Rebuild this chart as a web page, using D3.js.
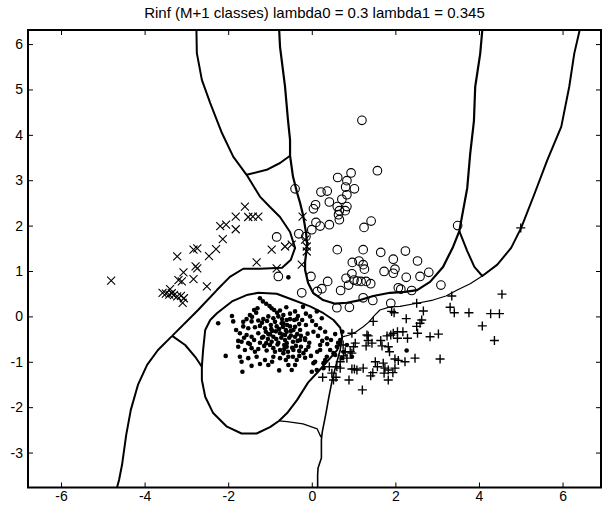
<!DOCTYPE html>
<html>
<head>
<meta charset="utf-8">
<script src="https://cdn.jsdelivr.net/npm/d3@7"></script>
<style>
  html, body { margin: 0; padding: 0; background: #fff; }
  svg { display: block; font-family: "Liberation Sans", Arial, Helvetica, sans-serif; }
</style>
</head>
<body>
<svg id="chart" width="604" height="507"></svg>
<script>
// Class samples, [x, y] in data units
const crossPoints = [
  [-4.80, 0.79], [-1.60, 2.42], [-1.82, 2.20], [-1.52, 2.19], [-1.41, 2.20], [-1.28, 2.20],
  [-2.19, 1.99], [-2.05, 2.02], [-1.82, 1.92], [-2.13, 1.70], [-2.29, 1.48], [-2.46, 1.33],
  [-2.83, 1.47], [-2.74, 1.50], [-3.22, 1.32], [-2.78, 1.10], [-2.74, 1.06], [-3.07, 0.97],
  [-2.83, 0.82], [-3.19, 0.80], [-3.11, 0.77], [-2.51, 0.66], [-3.57, 0.52], [-3.49, 0.50],
  [-3.41, 0.48], [-3.35, 0.51], [-3.30, 0.47], [-3.22, 0.44], [-3.13, 0.45], [-3.06, 0.40],
  [-3.09, 0.30], [-3.39, 0.60], [-0.96, 1.47], [-1.32, 1.19], [-0.84, 1.06], [-0.22, 2.20],
  [-0.64, 1.54], [-0.48, 1.58], [-0.12, 1.54], [-0.24, 1.14], [-0.12, 1.43], [-0.16, 1.69]
];

const circlePoints = [
  [1.20, 4.32], [1.57, 3.21], [0.94, 3.16], [0.62, 3.06], [0.84, 2.99], [-0.40, 2.81],
  [0.81, 2.85], [1.02, 2.81], [0.22, 2.74], [0.37, 2.76], [0.84, 2.68], [0.72, 2.58],
  [0.42, 2.52], [0.09, 2.46], [0.04, 2.37], [0.61, 2.42], [0.84, 2.42], [0.66, 2.33],
  [0.80, 2.33], [0.64, 2.24], [0.66, 2.13], [1.42, 2.10], [0.10, 2.07], [0.20, 1.99],
  [0.42, 2.02], [1.25, 1.96], [0.00, 1.91], [-0.31, 1.82], [-0.14, 1.76], [3.49, 2.00],
  [0.61, 1.47], [1.23, 1.47], [1.65, 1.41], [2.24, 1.44], [1.95, 1.26], [2.53, 1.22],
  [0.97, 1.19], [1.13, 1.22], [1.23, 1.14], [1.26, 1.04], [1.99, 1.04], [1.73, 0.99],
  [1.95, 0.95], [2.80, 0.97], [2.59, 0.88], [2.26, 0.86], [-0.02, 0.88], [0.82, 0.84],
  [0.96, 0.94], [1.01, 0.80], [1.09, 0.78], [1.18, 0.77], [1.30, 0.77], [1.41, 0.72],
  [0.38, 0.77], [0.88, 0.69], [3.09, 0.69], [0.24, 0.61], [0.13, 0.55], [0.69, 0.57],
  [2.07, 0.63], [2.13, 0.60], [2.39, 0.57], [-0.24, 0.52], [1.23, 0.41], [1.46, 0.35],
  [1.89, 0.29], [0.60, 0.19], [0.90, 0.20], [-0.84, 1.75], [-0.80, 0.88]
];

const plusPoints = [
  [4.55, 0.49], [3.35, 0.45], [3.31, 0.20], [3.41, 0.08], [3.76, 0.08], [4.28, 0.06],
  [4.49, 0.06], [4.08, -0.21], [4.37, -0.53], [3.07, -0.94], [3.03, -0.39], [2.83, -0.45],
  [2.67, 0.12], [2.51, 0.29], [2.26, -0.05], [2.63, -0.08], [2.59, -0.15], [2.51, -0.22],
  [2.53, -0.37], [2.29, -0.48], [2.18, -0.34], [2.05, -0.34], [2.05, -0.48], [1.95, -0.37],
  [1.89, -0.41], [1.91, 0.11], [1.97, 0.08], [1.47, -0.11], [0.96, -0.37], [1.32, -0.41],
  [1.35, -0.53], [1.30, -0.65], [1.44, -0.59], [1.65, -0.53], [1.68, -0.65], [1.83, -0.67],
  [1.86, -0.78], [1.99, -0.94], [2.07, -0.97], [2.23, -1.00], [2.47, -0.92], [1.52, -1.00],
  [1.71, -1.03], [1.57, -1.11], [1.75, -1.14], [1.83, -1.18], [1.99, -1.14], [1.94, -1.24],
  [1.41, -1.31], [1.46, -1.24], [1.23, -1.14], [1.83, -1.40], [0.89, -1.40], [1.21, -1.62],
  [0.96, -1.16], [1.02, -1.16], [0.52, -1.40], [0.26, -1.34], [0.58, -1.34], [0.42, -1.11],
  [0.60, -1.11], [0.84, -0.92], [0.96, -0.81], [1.00, -0.67], [0.92, -0.78], [1.04, -0.59],
  [0.76, -0.87], [0.68, -1.00], [5.00, 1.95], [1.35, -0.43], [1.80, -0.43], [0.80, -0.78],
  [0.48, -1.25], [0.68, -1.14], [1.08, -1.18], [1.73, -1.25], [0.75, -0.63]
];

const dotPoints = [
  [-0.56, 0.86], [-1.24, 0.40], [-1.17, 0.33], [-1.09, 0.28], [-1.01, 0.23], [-0.96, 0.18],
  [-0.76, 0.13], [-1.38, 0.14], [-1.30, 0.18], [-1.48, 0.03], [-1.91, 0.01], [-1.88, -0.11],
  [-1.56, -0.06], [-1.44, -0.11], [-1.28, -0.09], [-1.16, -0.06], [-1.04, 0.00], [-0.92, -0.04],
  [-0.80, 0.00], [-0.68, 0.03], [-0.60, -0.08], [-1.64, -0.22], [-1.52, -0.26], [-1.36, -0.24],
  [-1.24, -0.21], [-1.12, -0.26], [-0.98, -0.19], [-0.84, -0.22], [-0.72, -0.15], [-1.72, -0.37],
  [-1.56, -0.41], [-1.44, -0.45], [-1.28, -0.37], [-1.16, -0.45], [-1.04, -0.39], [-0.92, -0.45],
  [-0.76, -0.37], [-0.60, -0.34], [-1.68, -0.56], [-1.52, -0.59], [-1.38, -0.52], [-1.24, -0.58],
  [-1.09, -0.59], [-0.96, -0.56], [-0.80, -0.58], [-0.64, -0.52], [-1.76, -0.67], [-1.60, -0.74],
  [-1.44, -0.70], [-1.28, -0.72], [-1.08, -0.75], [-0.92, -0.70], [-0.76, -0.74], [-0.60, -0.67],
  [-2.06, -0.87], [-1.72, -0.89], [-1.52, -0.92], [-1.32, -0.89], [-1.12, -0.96], [-0.92, -0.89],
  [-0.76, -0.92], [-0.56, -0.89], [-1.68, -1.00], [-1.44, -1.09], [-1.04, -1.07], [-0.78, -1.19],
  [-1.66, -1.22], [-2.24, -0.15], [-0.21, 0.21], [-0.40, 0.11], [0.12, 0.11], [-0.04, 0.00],
  [0.24, -0.04], [-0.36, -0.06], [-0.52, -0.06], [-0.14, -0.19], [0.04, -0.34], [0.36, -0.48],
  [0.32, -0.34], [0.73, -0.34], [-0.28, -0.30], [-0.40, -0.45], [-0.16, -0.52], [0.20, -0.63],
  [0.44, -0.74], [0.56, -0.85], [0.32, -0.96], [0.08, -1.00], [-0.16, -0.91], [-0.40, -1.07],
  [-0.68, -0.15], [-0.52, -0.22], [0.20, -0.26], [-0.28, -0.52], [-0.60, -0.59], [-0.44, -0.74],
  [-0.68, -0.81], [-0.20, -0.81], [0.20, -0.74], [0.52, -0.81], [0.36, -0.89], [0.28, -1.03],
  [0.04, -1.03], [-0.36, -0.96], [-0.56, -1.07], [-0.48, -1.18], [0.12, -1.18], [0.28, -1.14],
  [0.00, -1.22], [0.68, -0.52], [0.60, -0.67], [0.84, -0.63], [0.76, -0.78], [0.96, -0.89],
  [0.72, -0.92], [-0.16, -0.48], [-0.08, -0.67], [2.27, -0.75], [-1.19, -0.14], [-1.07, -0.10],
  [-0.97, -0.28], [-0.88, -0.12], [-0.78, -0.28], [-0.69, -0.23], [-0.59, -0.19], [-0.50, -0.32],
  [-0.40, -0.23], [-0.30, -0.17], [-1.19, -0.47], [-1.05, -0.50], [-0.95, -0.32], [-0.85, -0.50],
  [-0.73, -0.47], [-0.64, -0.41], [-0.54, -0.47], [-0.45, -0.56], [-0.35, -0.39], [-0.26, -0.43],
  [-1.14, -0.65], [-1.00, -0.63], [-0.88, -0.78], [-0.66, -0.63], [-0.57, -0.78], [-0.47, -0.69],
  [-0.38, -0.65], [-0.26, -0.67], [-0.14, -0.74], [-0.06, -0.58], [-0.83, 0.08], [-0.71, -0.06],
  [-0.52, 0.06], [-0.42, -0.08], [-0.33, 0.01], [-0.23, -0.08], [-0.14, 0.06], [0.01, -0.10],
  [0.10, -0.19], [0.15, -0.43], [0.25, -0.54], [0.37, -0.61], [0.46, -0.52], [0.56, -0.39],
  [0.63, -0.58], [0.13, -0.78], [-0.02, -0.87], [-0.30, -0.87], [-0.45, -0.89], [-0.62, -0.96],
  [-0.95, -1.00], [-1.24, -1.05], [-1.36, -0.78], [-1.48, -0.61], [-1.62, -0.47], [-1.76, -0.54],
  [-1.81, -0.30], [-1.64, -0.12], [-1.43, -0.01], [-1.33, 0.08], [-0.61, 0.20], [-0.90, 0.14],
  [-0.86, -0.33], [-0.70, -0.40], [-0.50, -0.42], [-0.62, -0.30], [-0.82, -0.62], [-0.66, -0.72],
  [-0.34, -0.54], [-0.44, -0.30], [-1.00, -0.40], [-1.10, -0.34], [-0.30, -0.76], [-0.10, -0.38]
];

// Decision boundaries, [x, y] in data units
const boundUpperLeft = [
  [-2.76, 6.31], [-2.75, 5.80], [-2.63, 5.21], [-2.43, 4.70], [-2.15, 4.04], [-1.88, 3.52],
  [-1.56, 3.12], [-1.24, 2.64], [-1.00, 2.41], [-0.76, 2.19], [-0.52, 1.86], [-0.40, 1.51],
  [-0.50, 1.25], [-0.71, 1.07], [-1.24, 1.05], [-1.64, 1.05], [-1.96, 0.87], [-2.27, 0.58],
  [-2.72, 0.14], [-3.34, -0.43]
];
const boundBranch = [[-1.56, 3.12], [-1.08, 3.23], [-0.76, 3.38], [-0.52, 3.54]];
const boundLowerLeft = [
  [-3.34, -0.43], [-3.68, -0.74], [-3.94, -1.07], [-4.16, -1.51], [-4.33, -2.06],
  [-4.44, -2.61], [-4.49, -2.94], [-4.54, -3.27], [-4.61, -3.60], [-4.66, -3.77]
];
const boundLink = [[-3.34, -0.43], [-3.03, -0.63], [-2.79, -0.89], [-2.63, -1.11]];
const boundDotRegion = [
  [-2.63, -1.11], [-2.60, -0.74], [-2.55, -0.30], [-2.43, -0.08], [-2.27, 0.07], [-1.91, 0.33],
  [-1.56, 0.47], [-1.28, 0.52], [-0.84, 0.50], [-0.44, 0.36], [-0.04, 0.22], [0.28, 0.07],
  [0.52, -0.08], [0.68, -0.25], [0.73, -0.45], [0.61, -0.74], [0.44, -0.92], [0.15, -1.22],
  [-0.09, -1.46], [-0.35, -1.84], [-0.59, -2.13], [-0.78, -2.30], [-1.00, -2.44], [-1.32, -2.58],
  [-1.68, -2.58], [-2.03, -2.43], [-2.36, -2.13], [-2.55, -1.77], [-2.63, -1.40], [-2.63, -1.11]
];
const boundDotTail = [[-0.78, -2.30], [-0.59, -2.32], [-0.21, -2.37], [0.13, -2.48], [0.22, -2.66]];
const boundCircleRegion = [
  [-0.78, 6.31], [-0.76, 5.94], [-0.64, 5.06], [-0.57, 4.33], [-0.52, 3.89], [-0.52, 3.54],
  [-0.45, 3.08], [-0.35, 2.72], [-0.28, 2.50], [-0.21, 2.24], [-0.14, 1.86], [-0.11, 1.58],
  [-0.16, 1.20], [-0.16, 1.02], [-0.09, 0.74], [0.03, 0.52], [0.27, 0.36], [0.56, 0.28],
  [0.84, 0.30], [1.16, 0.36], [1.47, 0.45], [1.87, 0.52], [2.23, 0.54], [2.52, 0.58],
  [2.83, 0.76], [3.14, 1.09], [3.38, 1.53], [3.53, 1.88], [3.62, 2.33], [3.72, 2.83],
  [3.79, 3.58], [3.88, 4.31], [3.91, 5.06], [4.03, 5.79], [4.08, 6.31]
];
const boundRightV = [
  [3.53, 1.88], [3.72, 1.44], [3.89, 1.09], [4.08, 0.89], [4.44, 1.14], [4.77, 1.51],
  [5.01, 1.95], [5.32, 2.68], [5.63, 3.43], [5.97, 4.18], [6.16, 5.06], [6.28, 5.79], [6.41, 6.31]
];
const boundPlusTop = [
  [0.73, -0.45], [0.90, -0.41], [1.06, -0.34], [1.23, -0.23], [1.37, -0.12], [1.49, 0.01],
  [1.63, 0.14], [1.87, 0.21], [2.11, 0.22], [2.52, 0.29], [2.90, 0.36], [3.21, 0.45],
  [3.48, 0.58], [3.79, 0.72], [4.08, 0.89]
];
const boundPlusLeft = [
  [0.73, -0.45], [0.68, -0.74], [0.58, -1.07], [0.49, -1.40], [0.41, -1.77], [0.34, -2.13],
  [0.25, -2.55], [0.23, -2.72], [0.23, -3.12], [0.15, -3.34], [0.14, -3.49], [0.14, -3.77]
];

const xTicks = [-6, -4, -2, 0, 2, 4, 6];
const yTicks = [-3, -2, -1, 0, 1, 2, 3, 4, 5, 6];
const titleText = "Rinf (M+1 classes) lambda0 = 0.3 lambda1 = 0.345";

const svg = d3.select("#chart");
const box = { left: 28, right: 601, top: 30, bottom: 487.5 };

const x = d3.scaleLinear().domain([-6.79, 6.92]).range([box.left, box.right]);
const y = d3.scaleLinear().domain([-3.77, 6.31]).range([box.bottom, box.top]);

svg.append("defs").append("clipPath").attr("id", "plotclip")
  .append("rect")
  .attr("x", box.left).attr("y", box.top)
  .attr("width", box.right - box.left).attr("height", box.bottom - box.top);

const plot = svg.append("g").attr("clip-path", "url(#plotclip)");

const line = d3.line().x(d => x(d[0])).y(d => y(d[1])).curve(d3.curveLinear);

const bounds = [
  { pts: boundUpperLeft, w: 2 },
  { pts: boundBranch, w: 2 },
  { pts: boundLowerLeft, w: 2 },
  { pts: boundLink, w: 2 },
  { pts: boundDotRegion, w: 2 },
  { pts: boundDotTail, w: 1.3 },
  { pts: boundCircleRegion, w: 2.2 },
  { pts: boundRightV, w: 2 },
  { pts: boundPlusTop, w: 1.2 },
  { pts: boundPlusLeft, w: 1.6 }
];

plot.selectAll("path.bound")
  .data(bounds)
  .enter()
  .append("path")
  .attr("class", "bound")
  .attr("d", d => line(d.pts))
  .attr("fill", "none")
  .attr("stroke", "#000")
  .attr("stroke-width", d => d.w)
  .attr("stroke-linejoin", "round");

// markers
plot.selectAll("circle.dot")
  .data(dotPoints)
  .enter()
  .append("circle")
  .attr("class", "dot")
  .attr("cx", d => x(d[0]))
  .attr("cy", d => y(d[1]))
  .attr("r", 2.3)
  .attr("fill", "#000");

plot.selectAll("circle.ring")
  .data(circlePoints)
  .enter()
  .append("circle")
  .attr("class", "ring")
  .attr("cx", d => x(d[0]))
  .attr("cy", d => y(d[1]))
  .attr("r", 4.3)
  .attr("fill", "none")
  .attr("stroke", "#000")
  .attr("stroke-width", 1.1);

const cs = 4;
plot.selectAll("path.cross")
  .data(crossPoints)
  .enter()
  .append("path")
  .attr("class", "cross")
  .attr("d", d => {
    const cx = x(d[0]), cy = y(d[1]);
    return `M${cx - cs},${cy - cs}L${cx + cs},${cy + cs}M${cx - cs},${cy + cs}L${cx + cs},${cy - cs}`;
  })
  .attr("stroke", "#000")
  .attr("stroke-width", 1.1);

const ps = 4.5;
plot.selectAll("path.plus")
  .data(plusPoints)
  .enter()
  .append("path")
  .attr("class", "plus")
  .attr("d", d => {
    const cx = x(d[0]), cy = y(d[1]);
    return `M${cx - ps},${cy}L${cx + ps},${cy}M${cx},${cy - ps}L${cx},${cy + ps}`;
  })
  .attr("stroke", "#000")
  .attr("stroke-width", 1.4);

// axes: inward ticks on all four sides
const tickLen = 5;
const axisBottom = d3.axisBottom(x).tickValues(xTicks).tickSizeInner(-tickLen).tickSizeOuter(0)
  .tickPadding(4).tickFormat(d => String(d));
const axisTop = d3.axisTop(x).tickValues(xTicks).tickSizeInner(-tickLen).tickSizeOuter(0).tickFormat("");
const axisLeft = d3.axisLeft(y).tickValues(yTicks).tickSizeInner(-tickLen).tickSizeOuter(0)
  .tickPadding(5).tickFormat(d => String(d));
const axisRight = d3.axisRight(y).tickValues(yTicks).tickSizeInner(-tickLen).tickSizeOuter(0).tickFormat("");

function styleAxis(g) {
  g.select(".domain").remove();
  g.selectAll(".tick line").attr("stroke", "#000").attr("stroke-width", 1);
  g.selectAll(".tick text").attr("fill", "#000").attr("font-size", 14)
    .attr("font-family", "'Liberation Sans', Arial, Helvetica, sans-serif");
}

svg.append("g").attr("transform", `translate(0,${box.bottom})`).call(axisBottom).call(styleAxis);
svg.append("g").attr("transform", `translate(0,${box.top})`).call(axisTop).call(styleAxis);
svg.append("g").attr("transform", `translate(${box.left},0)`).call(axisLeft).call(styleAxis);
svg.append("g").attr("transform", `translate(${box.right},0)`).call(axisRight).call(styleAxis);

svg.append("rect")
  .attr("x", box.left).attr("y", box.top)
  .attr("width", box.right - box.left).attr("height", box.bottom - box.top)
  .attr("fill", "none")
  .attr("stroke", "#000")
  .attr("stroke-width", 2);

svg.append("text")
  .attr("x", (box.left + box.right) / 2)
  .attr("y", 18)
  .attr("text-anchor", "middle")
  .attr("font-size", 15)
  .attr("fill", "#000")
  .text(titleText);
</script>
</body>
</html>
